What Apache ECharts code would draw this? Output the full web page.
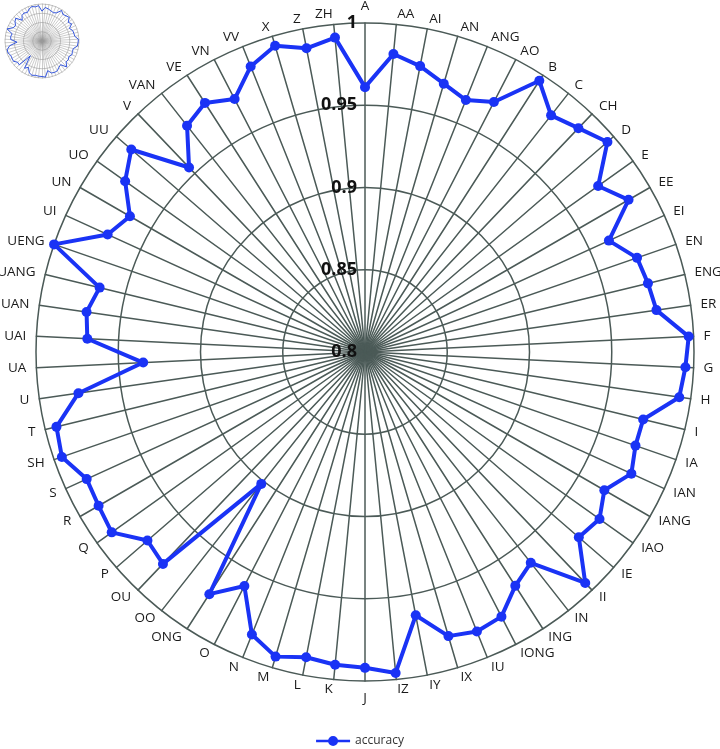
<!DOCTYPE html>
<html>
<head>
<meta charset="utf-8">
<title>accuracy radar</title>
<script src="https://cdn.jsdelivr.net/npm/echarts@6/dist/echarts.min.js"></script>
<style>
  html, body { margin: 0; padding: 0; background: #fff; }
  #chart { width: 720px; height: 749px; }
</style>
</head>
<body>
<div id="chart"></div>
<script>
// categories, clockwise from the top
const categories = [
  "A", "AA", "AI", "AN", "ANG", "AO", "B", "C", "CH", "D", "E", "EE", "EI", "EN", "ENG", "ER",
  "F", "G", "H", "I", "IA", "IAN", "IANG", "IAO", "IE", "II", "IN", "ING", "IONG", "IU", "IX",
  "IY", "IZ", "J", "K", "L", "M", "N", "O", "ONG", "OO", "OU", "P", "Q", "R", "S", "SH", "T",
  "U", "UA", "UAI", "UAN", "UANG", "UENG", "UI", "UN", "UO", "UU", "V", "VAN", "VE", "VN",
  "VV", "X", "Z", "ZH"
]
const accuracy = [
  0.961, 0.982, 0.977, 0.970, 0.965, 0.971, 0.996, 0.983, 0.988, 0.995, 0.974, 0.985, 0.963,
  0.975, 0.977, 0.979, 0.997, 0.995, 0.993, 0.974, 0.974, 0.978, 0.968, 0.975, 0.972, 0.994,
  0.963, 0.969, 0.981, 0.983, 0.980, 0.963, 0.996, 0.992, 0.991, 0.989, 0.993, 0.985, 0.960,
  0.975, 0.902, 0.978, 0.975, 0.989, 0.987, 0.986, 0.995, 0.993, 0.976, 0.935, 0.969, 0.971,
  0.966, 1.0, 0.972, 0.965, 0.979, 0.988, 0.955, 0.975, 0.980, 0.973, 0.987, 0.994, 0.988,
  0.992
]
const radialMin = 0.8
const radialMax = 1

// echarts radar runs counter-clockwise, so flip the order after the first one
const order = [0].concat(categories.map((c, i) => i).slice(1).reverse())
const indicators = order.map((i, k) => {
  const ind = { name: categories[i], min: radialMin, max: radialMax }
  if (k === 0) ind.axisLabel = { show: true }
  return ind
})
const values = order.map(i => accuracy[i])

const gridColor = "#4b5a57"
const blue = "#1a33f5"
// line with a dot, like the excel legend key
const legendIcon = "path://M0,4.8h12.5v2.4H0z M21.5,4.8h12.5v2.4H21.5z M17,1a5,5 0 1,1 -0.01,0z"

const chart = echarts.init(document.getElementById("chart"), null, { renderer: "canvas" })
const option = {
  animation: false,
  textStyle: { fontFamily: "Open Sans" },
  legend: {
    data: [{ name: "accuracy", icon: legendIcon }],
    bottom: -3,
    left: "center",
    itemWidth: 34,
    itemHeight: 12,
    itemGap: 4,
    textStyle: { fontSize: 12, color: "#333", fontFamily: "Open Sans" }
  },
  radar: [
    {
      center: [365, 352],
      radius: 329,
      shape: "circle",
      splitNumber: 4,
      nameGap: 10,
      axisName: { color: "#1a1a1a", fontSize: 13.5, fontFamily: "Open Sans" },
      axisLine: { lineStyle: { color: gridColor, width: 1.5 } },
      splitLine: { lineStyle: { color: gridColor, width: 1.5 } },
      splitArea: { show: false },
      axisLabel: {
        show: false,
        color: "#111",
        fontSize: 18,
        fontWeight: "bold",
        fontFamily: "Open Sans",
        margin: 8,
        formatter: v => String(+v.toFixed(2))
      },
      indicator: indicators
    },
    {
      // small preview in the top-left corner
      center: [42, 41],
      radius: 37,
      shape: "circle",
      splitNumber: 4,
      axisName: { show: false },
      axisLine: { lineStyle: { color: "#999", width: 0.5 } },
      splitLine: { lineStyle: { color: "#888", width: 0.5 } },
      splitArea: { show: false },
      indicator: order.map(i => ({ name: categories[i], min: radialMin, max: radialMax }))
    }
  ],
  series: [
    {
      name: "accuracy",
      type: "radar",
      radarIndex: 0,
      symbol: "circle",
      symbolSize: 10,
      lineStyle: { color: blue, width: 4 },
      itemStyle: { color: blue },
      data: [{ value: values, name: "accuracy" }]
    },
    {
      name: "preview",
      type: "radar",
      radarIndex: 1,
      symbol: "none",
      lineStyle: { color: "#3355dd", width: 1 },
      data: [{ value: values, name: "preview" }]
    }
  ]
}
chart.setOption(option)
</script>
</body>
</html>
